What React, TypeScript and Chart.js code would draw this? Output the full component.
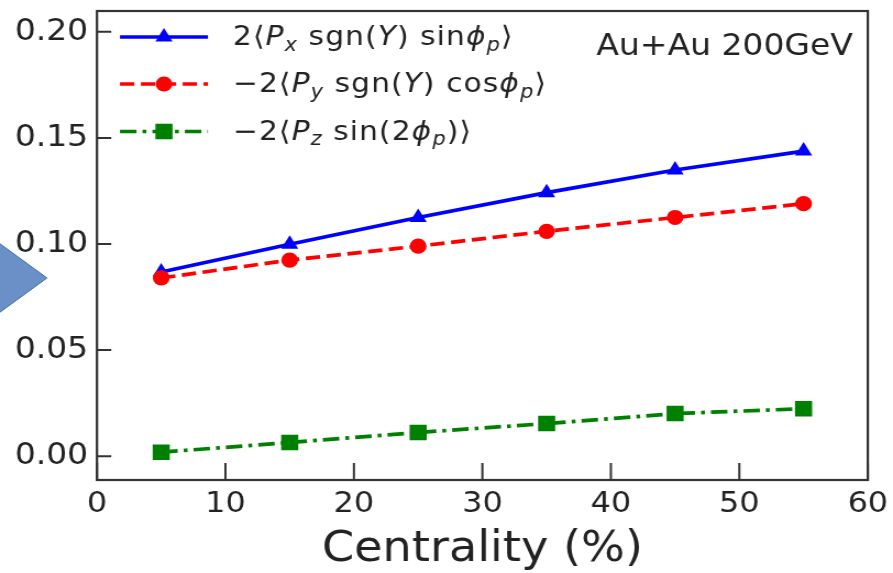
import React, { useEffect, useRef } from "react";
import { Chart, registerables } from "chart.js";

Chart.register(...registerables);

// ---------------- data ----------------
const centrality = [5, 15, 25, 35, 45, 55];
const pxSgnSin = [0.0868, 0.0999, 0.1125, 0.1242, 0.1349, 0.1438];
const pySgnCos = [0.084, 0.0924, 0.099, 0.106, 0.1125, 0.119];
const pzSin2 = [0.0019, 0.0065, 0.0112, 0.0154, 0.0201, 0.0224];
const xTicks = [0, 10, 20, 30, 40, 50, 60];
const yTicks = [0, 0.05, 0.1, 0.15, 0.2];
const xTitle = "Centrality (%)";
const annotationText = "Au+Au 200GeV";

// legend labels as math parts: [text, style] (i = italic, s = italic subscript)
type Part = [string, string?];
const legendPx: Part[] = [["2⟨"], ["P", "i"], ["x", "s"], [" sgn("], ["Y", "i"], [") sin"], ["ϕ", "i"], ["p", "s"], ["⟩"]];
const legendPy: Part[] = [["−2⟨"], ["P", "i"], ["y", "s"], [" sgn("], ["Y", "i"], [") cos"], ["ϕ", "i"], ["p", "s"], ["⟩"]];
const legendPz: Part[] = [["−2⟨"], ["P", "i"], ["z", "s"], [" sin(2"], ["ϕ", "i"], ["p", "s"], [")⟩"]];

// ---------------- styling ----------------
const W = 893;
const H = 573;
const SX = 1.1; // horizontal stretch of the original picture
const CW = Math.round(W / SX);
const FONT = '"DejaVu Sans", sans-serif';
const TEXT = "#222222";
const AXIS = "#333333";

const series = [
  { label: "px", data: pxSgnSin, color: "#0000ff", dash: [] as number[], point: "triangle", radius: 9, order: 2, legend: legendPx },
  { label: "py", data: pySgnCos, color: "#ff0000", dash: [13, 6], point: "circle", radius: 7.6, order: 1, legend: legendPy },
  { label: "pz", data: pzSin2, color: "#008000", dash: [15, 5.5, 3.5, 5.5], point: "rect", radius: 11, order: 0, legend: legendPz },
];

function drawMarker(ctx: CanvasRenderingContext2D, style: string, r: number, x: number, y: number) {
  ctx.beginPath();
  if (style === "triangle") {
    const w = r * Math.sin(Math.PI / 3);
    ctx.moveTo(x, y - r);
    ctx.lineTo(x + w, y + r / 2);
    ctx.lineTo(x - w, y + r / 2);
    ctx.closePath();
  } else if (style === "circle") {
    ctx.arc(x, y, r, 0, Math.PI * 2);
  } else {
    const s = r * Math.SQRT1_2;
    ctx.rect(x - s, y - s, 2 * s, 2 * s);
  }
  ctx.fill();
}

function drawMath(ctx: CanvasRenderingContext2D, parts: Part[], x: number, y: number, size: number) {
  let cx = x;
  (ctx as any).letterSpacing = "1px";
  for (const [t, st] of parts) {
    const sub = st === "s";
    const it = st === "i" || sub;
    const fs = sub ? size * 0.7 : size;
    ctx.font = `${it ? "italic " : ""}${fs}px ${FONT}`;
    ctx.fillText(t, cx, y + (sub ? size * 0.22 : 0));
    cx += ctx.measureText(t).width;
  }
  (ctx as any).letterSpacing = "0px";
}

const decorPlugin = {
  id: "decor",
  beforeDraw(chart: any) {
    const ctx: CanvasRenderingContext2D = chart.ctx;
    ctx.save();
    ctx.fillStyle = "#ffffff";
    ctx.fillRect(0, 0, chart.width, chart.height);
    // blue arrow-head shape at the left edge
    ctx.beginPath();
    ctx.moveTo(-30 / SX, 222);
    ctx.lineTo(47 / SX, 278);
    ctx.lineTo(-30 / SX, 334);
    ctx.closePath();
    ctx.fillStyle = "#6b8fc7";
    ctx.fill();
    ctx.strokeStyle = "#41719c";
    ctx.lineWidth = 1;
    ctx.stroke();
    ctx.restore();
  },
  afterDraw(chart: any) {
    const ctx: CanvasRenderingContext2D = chart.ctx;
    const a = chart.chartArea;
    const xs = chart.scales.x;
    const ys = chart.scales.y;
    ctx.save();
    // frame
    ctx.strokeStyle = AXIS;
    ctx.lineWidth = 2.2;
    ctx.setLineDash([]);
    ctx.strokeRect(a.left, a.top, a.right - a.left, a.bottom - a.top);
    // inward ticks
    ctx.lineWidth = 2;
    ctx.beginPath();
    for (const v of yTicks) {
      const py = ys.getPixelForValue(v);
      ctx.moveTo(a.left, py);
      ctx.lineTo(a.left + 13, py);
    }
    for (const v of xTicks) {
      const px = xs.getPixelForValue(v);
      ctx.moveTo(px, a.bottom);
      ctx.lineTo(px, a.bottom - 17);
    }
    ctx.stroke();

    // legend
    const lx0 = 120 / SX;
    const lx1 = 208 / SX;
    const lxm = 164 / SX;
    const rowY = [37, 84, 131.5];
    series.forEach((s, i) => {
      const y = rowY[i];
      ctx.strokeStyle = s.color;
      ctx.fillStyle = s.color;
      ctx.lineWidth = 3.7;
      ctx.setLineDash(s.dash);
      ctx.beginPath();
      ctx.moveTo(lx0, y);
      ctx.lineTo(lx1, y);
      ctx.stroke();
      ctx.setLineDash([]);
      drawMarker(ctx, s.point, s.radius, lxm, y);
      ctx.fillStyle = TEXT;
      ctx.textBaseline = "alphabetic";
      ctx.textAlign = "left";
      drawMath(ctx, s.legend, 233 / SX, y + 8, 27);
    });

    // annotation
    ctx.fillStyle = TEXT;
    ctx.font = `30px ${FONT}`;
    ctx.textAlign = "right";
    ctx.textBaseline = "alphabetic";
    ctx.fillText(annotationText, 853 / SX, 55);
    ctx.restore();
  },
};

export default function App() {
  const ref = useRef<HTMLCanvasElement | null>(null);
  useEffect(() => {
    const canvas = ref.current;
    if (!canvas) return;
    const chart = new Chart(canvas, {
      type: "line",
      data: {
        datasets: series.map((s) => ({
          label: s.label,
          data: centrality.map((c, i) => ({ x: c, y: s.data[i] })),
          borderColor: s.color,
          backgroundColor: s.color,
          pointBackgroundColor: s.color,
          pointBorderColor: s.color,
          borderWidth: 3.7,
          borderDash: s.dash,
          pointStyle: s.point as any,
          pointRadius: s.radius,
          pointBorderWidth: 0,
          tension: 0,
          fill: false,
          order: s.order,
        })),
      },
      options: {
        animation: false,
        responsive: false,
        maintainAspectRatio: false,
        devicePixelRatio: 1,
        layout: { padding: { top: 7, right: CW - 868 / SX, left: 0, bottom: 0 } },
        plugins: { legend: { display: false }, tooltip: { enabled: false } },
        scales: {
          x: {
            type: "linear",
            min: 0,
            max: 60,
            afterBuildTicks: (s: any) => {
              s.ticks = xTicks.map((v) => ({ value: v }));
            },
            afterFit: (s: any) => {
              s.height = H - 480;
              s.paddingLeft = 0;
              s.paddingRight = 0;
            },
            grid: { display: false, drawTicks: false },
            border: { display: false },
            ticks: {
              color: TEXT,
              font: { family: FONT, size: 29 },
              padding: 7,
              maxRotation: 0,
              autoSkip: false,
              callback: (v: any) => String(v),
            },
            title: {
              display: true,
              text: xTitle,
              color: TEXT,
              font: { family: FONT, size: 42, lineHeight: 1 },
              padding: { top: 0, bottom: 2 },
            },
          },
          y: {
            type: "linear",
            min: -0.0112,
            max: 0.2098,
            afterBuildTicks: (s: any) => {
              s.ticks = yTicks.map((v) => ({ value: v }));
            },
            afterFit: (s: any) => {
              s.width = 97 / SX;
              s.paddingTop = 0;
              s.paddingBottom = 0;
            },
            grid: { display: false, drawTicks: false },
            border: { display: false },
            ticks: {
              color: TEXT,
              font: { family: FONT, size: 30 },
              padding: 8,
              autoSkip: false,
              callback: (v: any) => Number(v).toFixed(2),
            },
          },
        },
      },
      plugins: [decorPlugin],
    });
    return () => chart.destroy();
  }, []);

  return (
    <div style={{ position: "fixed", left: 0, top: 0, width: W, height: H, background: "#fff" }}>
      <canvas
        ref={ref}
        width={CW}
        height={H}
        style={{ width: `${W}px`, height: `${H}px`, display: "block" }}
      />
    </div>
  );
}
